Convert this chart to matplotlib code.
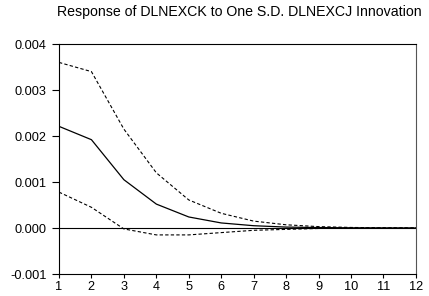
import numpy as np
import matplotlib
matplotlib.use("Agg")
import matplotlib.pyplot as plt

plt.rcParams['font.family'] = ['Liberation Sans', 'DejaVu Sans']

periods = np.arange(1, 13)
response = [0.00221, 0.00192, 0.00105, 0.00052, 0.00024, 0.00011,
            0.00005, 0.00002, 0.00001, 0.000004, 0.000002, 0.000001]
upper = [0.00360, 0.00340, 0.00215, 0.00120, 0.00061, 0.00032,
         0.00015, 0.00007, 0.00003, 0.000012, 0.000005, 0.000002]
lower = [0.00078, 0.00045, -0.00002, -0.00015, -0.00015, -0.00010,
         -0.00005, -0.00003, -0.00001, -0.000004, -0.000002, -0.000001]
yticks = [-0.001, 0.000, 0.001, 0.002, 0.003, 0.004]

fig = plt.figure(figsize=(4.29, 2.96), dpi=100)
ax = fig.add_axes([0.1375, 0.0743, 0.832, 0.777])

ax.axhline(0, color='black', lw=0.8)
ax.plot(periods, response, color='black', lw=0.9)
ax.plot(periods, upper, color='black', lw=0.8, ls=(0, (3, 2)))
ax.plot(periods, lower, color='black', lw=0.8, ls=(0, (3, 2)))

ax.set_xlim(1, 12)
ax.set_ylim(-0.001, 0.004)
ax.set_xticks(periods)
ax.set_yticks(yticks)
ax.set_yticklabels(['%.3f' % v for v in yticks])
ax.tick_params(labelsize=9.2, width=0.8)
ax.tick_params(axis='y', length=5, pad=4)
ax.tick_params(axis='x', length=3, pad=2)
for s in ax.spines.values():
    s.set_linewidth(0.8)
ax.spines['right'].set_color('#555555')

fig.text(0.559, 0.958, 'Response of DLNEXCK to One S.D. DLNEXCJ Innovation',
         ha='center', va='center', fontsize=10.2)

fig.savefig('out.png', dpi=100)
